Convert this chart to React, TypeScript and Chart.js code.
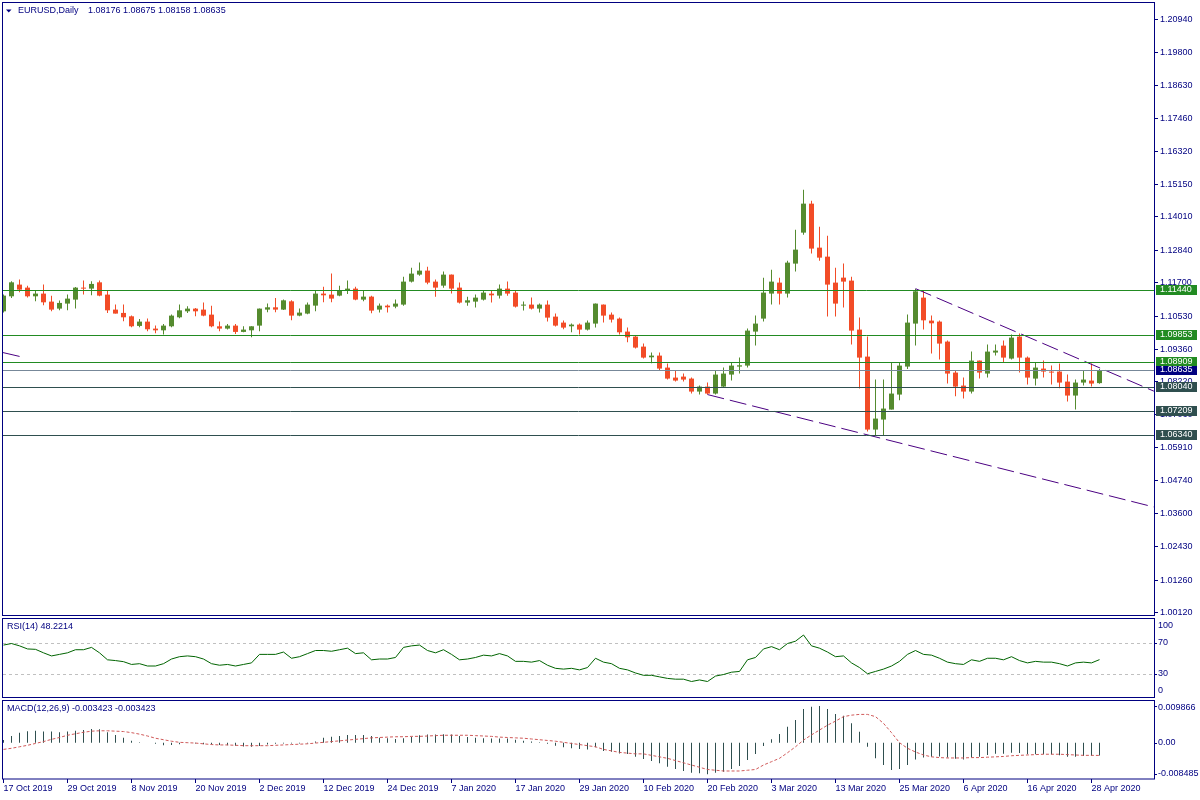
import React, { useEffect, useRef } from "react";
import { Chart, registerables } from "chart.js";

Chart.register(...registerables);

// ---------------- data ----------------
const symbolTitle = "EURUSD,Daily";
const rsiTitle = "RSI(14) 48.2214";
const macdTitle = "MACD(12,26,9) -0.003423 -0.003423";

const xTickLabels = [
  "17 Oct 2019", "29 Oct 2019", "8 Nov 2019", "20 Nov 2019", "2 Dec 2019", "12 Dec 2019",
  "24 Dec 2019", "7 Jan 2020", "17 Jan 2020", "29 Jan 2020", "10 Feb 2020", "20 Feb 2020",
  "3 Mar 2020", "13 Mar 2020", "25 Mar 2020", "6 Apr 2020", "16 Apr 2020", "28 Apr 2020",
];
const xTickStep = 8; // trading days between date labels

const priceTicks = [
  1.2094, 1.198, 1.1863, 1.1746, 1.1632, 1.1515, 1.1401, 1.1284, 1.117, 1.1053,
  1.0936, 1.0822, 1.0706, 1.0591, 1.0474, 1.036, 1.0243, 1.0126, 1.0012,
];

const opens = [
  1.10697, 1.11224, 1.11635, 1.11529, 1.11224, 1.11319, 1.11038, 1.10792, 1.10968, 1.11108,
  1.11529, 1.11494, 1.11715, 1.11284, 1.10757, 1.10641, 1.10522, 1.10185, 1.10336, 1.1009,
  1.1003, 1.10171, 1.10487, 1.10697, 1.10792, 1.10757, 1.10581, 1.10171, 1.1009, 1.10195,
  1.09974, 1.1003, 1.10195, 1.10757, 1.10838, 1.10757, 1.11048, 1.10546, 1.10617, 1.10897,
  1.11319, 1.11284, 1.11248, 1.11434, 1.11494, 1.11108, 1.11213, 1.10757, 1.10897, 1.10862,
  1.10933, 1.1174, 1.11986, 1.12126, 1.1174, 1.11599, 1.11986, 1.11529, 1.11003, 1.11038,
  1.11108, 1.11319, 1.11248, 1.11494, 1.11354, 1.10897, 1.10933, 1.10792, 1.10933, 1.10511,
  1.10301, 1.10171, 1.10231, 1.10055, 1.10266, 1.10933, 1.10581, 1.10441, 1.09985, 1.09809,
  1.09458, 1.09083, 1.09142, 1.08721, 1.0837, 1.08405, 1.08335, 1.07879, 1.08054, 1.07809,
  1.08054, 1.08476, 1.08756, 1.08791, 1.09985, 1.10441, 1.11319, 1.11705, 1.11319, 1.12372,
  1.1346, 1.14478, 1.12933, 1.12617, 1.11705, 1.1188, 1.11775, 1.10055, 1.09107, 1.06545,
  1.06896, 1.07247, 1.07774, 1.08756, 1.10266, 1.11178, 1.10371, 1.10336, 1.09634, 1.08546,
  1.08089, 1.07879, 1.08967, 1.08511, 1.09248, 1.09493, 1.09037, 1.09809, 1.09072, 1.08335,
  1.08686, 1.08581, 1.08581, 1.0823, 1.07739, 1.08195, 1.08265, 1.08176,
];
const highs = [
  1.11284, 1.1175, 1.1181, 1.11599, 1.11434, 1.11635, 1.11248, 1.11073, 1.11284, 1.11554,
  1.11775, 1.1175, 1.11775, 1.11424, 1.10933, 1.10933, 1.10546, 1.10431, 1.10441, 1.10195,
  1.10255, 1.10581, 1.10933, 1.10873, 1.10817, 1.11003, 1.10897, 1.10336, 1.10255, 1.10255,
  1.10171, 1.10171, 1.10792, 1.10968, 1.11168, 1.11108, 1.11083, 1.10792, 1.11003, 1.11448,
  1.11564, 1.12021, 1.11599, 1.11775, 1.11564, 1.11434, 1.11248, 1.10968, 1.10933, 1.11108,
  1.11915, 1.12231, 1.12407, 1.12266, 1.1181, 1.12091, 1.11986, 1.11705, 1.11213, 1.11284,
  1.11424, 1.11424, 1.11635, 1.1174, 1.11424, 1.11038, 1.11178, 1.10968, 1.11073, 1.10617,
  1.10371, 1.10266, 1.10266, 1.10371, 1.10968, 1.10933, 1.10652, 1.10476, 1.10125, 1.09855,
  1.09564, 1.09248, 1.09248, 1.08862, 1.08616, 1.08511, 1.0837, 1.08089, 1.08195, 1.08616,
  1.08721, 1.08907, 1.09072, 1.1009, 1.10546, 1.1188, 1.12161, 1.1188, 1.12477, 1.13565,
  1.1497, 1.14583, 1.1367, 1.13354, 1.12231, 1.12372, 1.11915, 1.10476, 1.09809, 1.083,
  1.083, 1.08897, 1.08897, 1.10581, 1.11484, 1.11434, 1.10546, 1.10371, 1.09669, 1.08627,
  1.0837, 1.09283, 1.08967, 1.09528, 1.09528, 1.09669, 1.0988, 1.09915, 1.09107, 1.08897,
  1.08967, 1.08791, 1.08862, 1.08476, 1.083, 1.08616, 1.08862, 1.08675,
];
const lows = [
  1.10652, 1.11168, 1.11364, 1.11178, 1.11048, 1.10908, 1.10697, 1.10732, 1.10732, 1.10792,
  1.11284, 1.11259, 1.11224, 1.10641, 1.10617, 1.10346, 1.10136, 1.10136, 1.09995, 1.09925,
  1.0988, 1.10136, 1.10452, 1.10641, 1.10522, 1.10522, 1.10136, 1.09995, 1.10055, 1.09904,
  1.0996, 1.09785, 1.09995, 1.10662, 1.10662, 1.10746, 1.10381, 1.10522, 1.10592, 1.10697,
  1.11013, 1.11013, 1.11224, 1.11308, 1.11083, 1.11048, 1.10627, 1.10652, 1.10652, 1.10803,
  1.10897, 1.11705, 1.1195, 1.11645, 1.11213, 1.11529, 1.11319, 1.10968, 1.10897, 1.10827,
  1.11073, 1.11003, 1.11143, 1.11248, 1.10827, 1.10722, 1.10757, 1.10652, 1.10336, 1.1016,
  1.10066, 1.0996, 1.0988, 1.1002, 1.10125, 1.10301, 1.10301, 1.0988, 1.09609, 1.09388,
  1.09037, 1.08872, 1.08626, 1.083, 1.0823, 1.0823, 1.07809, 1.07774, 1.07774, 1.07774,
  1.08019, 1.08265, 1.08511, 1.08721, 1.09493, 1.10336, 1.10933, 1.10933, 1.11178, 1.12091,
  1.1339, 1.12723, 1.12477, 1.10511, 1.10511, 1.10827, 1.09528, 1.07984, 1.06475, 1.06334,
  1.06334, 1.07247, 1.07573, 1.08676, 1.09493, 1.10055, 1.09213, 1.09002, 1.0816, 1.07714,
  1.07633, 1.07809, 1.08335, 1.0837, 1.09142, 1.08897, 1.09002, 1.08546, 1.08125, 1.08089,
  1.0837, 1.08125, 1.07995, 1.07528, 1.07247, 1.08089, 1.08054, 1.08158,
];
const closes = [
  1.11248, 1.11715, 1.11459, 1.11224, 1.11319, 1.11013, 1.10757, 1.10992, 1.11143, 1.11529,
  1.11494, 1.11659, 1.11248, 1.10732, 1.10617, 1.10487, 1.10171, 1.10336, 1.10066, 1.1003,
  1.10195, 1.10546, 1.10732, 1.10792, 1.10697, 1.10546, 1.10171, 1.1009, 1.10195, 1.09974,
  1.10055, 1.10171, 1.10792, 1.10838, 1.10757, 1.11083, 1.10546, 1.10652, 1.10933, 1.11319,
  1.11259, 1.11143, 1.11434, 1.11494, 1.11108, 1.11213, 1.10722, 1.10897, 1.10838, 1.10968,
  1.1174, 1.12021, 1.12126, 1.11705, 1.11529, 1.11986, 1.11494, 1.11003, 1.11083, 1.11178,
  1.11354, 1.11259, 1.11494, 1.11319, 1.10862, 1.10933, 1.10792, 1.10933, 1.10476, 1.10195,
  1.10125, 1.10231, 1.10055, 1.10301, 1.10968, 1.10546, 1.10406, 1.0996, 1.09785, 1.09423,
  1.09072, 1.09142, 1.08686, 1.08335, 1.08265, 1.083, 1.07879, 1.08054, 1.07809, 1.08476,
  1.08511, 1.08791, 1.08802, 1.1002, 1.10266, 1.11354, 1.1174, 1.11319, 1.12407, 1.12863,
  1.14478, 1.12899, 1.12582, 1.11635, 1.10968, 1.1174, 1.1002, 1.09072, 1.06545, 1.06931,
  1.07282, 1.07809, 1.08791, 1.10301, 1.11399, 1.10381, 1.10276, 1.09564, 1.08511, 1.08054,
  1.07879, 1.08967, 1.08546, 1.09283, 1.09318, 1.09072, 1.09774, 1.09072, 1.0837, 1.08721,
  1.08581, 1.08546, 1.08195, 1.07739, 1.08195, 1.083, 1.0816, 1.08635,
];

const rsiValues = [
  67, 69, 66, 62, 61.5, 57, 53, 55, 57, 61,
  61, 64, 57, 48, 47, 45.6, 42, 43, 40, 40,
  43, 49, 52, 53, 52, 49, 43, 41, 42, 40,
  42, 44, 55, 55, 55, 58, 50, 52, 56, 60,
  60, 59, 61, 63, 56, 57, 48, 49, 49, 51,
  64, 66, 67, 60, 57, 61, 55, 48, 49, 51,
  54, 53, 56, 53, 46, 46, 45, 47, 41, 37,
  36, 37, 35, 38, 50, 45, 43, 37, 35, 31,
  28, 28, 26, 24, 23, 23, 20, 22, 20, 27,
  29, 32, 33, 48, 51, 62, 65, 61, 69, 72,
  80, 66, 63, 58, 52, 53, 44, 38, 30, 33,
  36, 40, 46, 55, 60, 55, 54, 50, 45, 43,
  42, 48, 46, 50, 50, 48, 52, 47, 44, 46,
  45, 45, 43, 40, 44, 45, 44, 48.2214,
];
const rsiLevels = [70, 30];
const rsiAxisLabels = [100, 70, 30, 0];

const macdMain = [
  0.0007, 0.0018, 0.0027, 0.0031, 0.0032, 0.003, 0.003, 0.0028, 0.003, 0.0032,
  0.0034, 0.0037, 0.0036, 0.0028, 0.0021, 0.0013, 0.0005, 0.0001, 0.0, -0.0003,
  -0.0007, -0.0006, -0.0004, -0.0001, -0.0002, -0.0004, -0.0005, -0.0006, -0.0007, -0.0008,
  -0.001, -0.0011, -0.0009, -0.0005, -0.0003, -0.0002, -0.0002, -0.0002, -0.0002, 0.0003,
  0.0013, 0.0016, 0.0018, 0.0021, 0.0021, 0.0021, 0.0018, 0.0013, 0.0012, 0.001,
  0.0012, 0.0016, 0.002, 0.0022, 0.0022, 0.0023, 0.0022, 0.0018, 0.0015, 0.0013,
  0.0012, 0.0011, 0.0011, 0.0011, 0.0008, 0.0005, 0.0003, 0.0001, -0.0003, -0.0008,
  -0.0012, -0.0015, -0.0017, -0.0018, -0.0012, -0.00224, -0.00242, -0.00287, -0.00305, -0.00376,
  -0.00439, -0.00493, -0.00555, -0.00645, -0.00708, -0.00762, -0.00806, -0.00824, -0.008485, -0.00806,
  -0.00779, -0.00708, -0.00627, -0.00466, -0.00305, -0.0009, 0.0009, 0.00233, 0.0043, 0.00609,
  0.00905, 0.00968, 0.009866, 0.00905, 0.00771, 0.00726, 0.0052, 0.00296, -0.00108, -0.00421,
  -0.006, -0.00735, -0.00708, -0.006, -0.0045, -0.004, -0.0038, -0.0037, -0.004, -0.0043,
  -0.0045, -0.004, -0.0038, -0.0033, -0.003, -0.003, -0.0027, -0.0028, -0.0031, -0.0031,
  -0.0031, -0.0032, -0.0034, -0.0038, -0.0038, -0.0036, -0.0035, -0.003423,
];
const macdSignal = [
  -0.0018, -0.0015, -0.0011, -0.0007, -0.0002, 0.0003, 0.0009, 0.0014, 0.002, 0.0024,
  0.0028, 0.0031, 0.0032, 0.0032, 0.0031, 0.003, 0.0027, 0.0023, 0.0018, 0.0012,
  0.0008, 0.0004, 0.0001, 0.0, -0.0001, -0.0003, -0.0005, -0.0006, -0.0006, -0.0007,
  -0.0008, -0.0008, -0.0008, -0.0008, -0.0007, -0.0006, -0.0005, -0.0004, -0.0003, -0.0001,
  0.0001, 0.0003, 0.0005, 0.0007, 0.0009, 0.0011, 0.0013, 0.0014, 0.0015, 0.0016,
  0.0016, 0.0017, 0.0017, 0.0018, 0.0019, 0.002, 0.002, 0.002, 0.002, 0.0019,
  0.0018, 0.0017, 0.0015, 0.0014, 0.0013, 0.0012, 0.001, 0.0008, 0.0006, 0.0004,
  0.0001, -0.0002, -0.0005, -0.0008, -0.0011, -0.0018, -0.0022, -0.0026, -0.0028, -0.003,
  -0.003, -0.0034, -0.0038, -0.0042, -0.0048, -0.0054, -0.006, -0.0066, -0.0072, -0.0074,
  -0.0076, -0.0076, -0.0076, -0.0074, -0.0072, -0.006, -0.0051, -0.0042, -0.0027, -0.0011,
  0.0007, 0.0021, 0.0034, 0.0047, 0.0058, 0.007, 0.0074, 0.0076, 0.0076, 0.007,
  0.0052, 0.0027, 0.0, -0.0015, -0.0025, -0.0033, -0.0038, -0.004, -0.0041, -0.0041,
  -0.0041, -0.004, -0.004, -0.0039, -0.0038, -0.0037, -0.0035, -0.0034, -0.0033, -0.0032,
  -0.0031, -0.0031, -0.0031, -0.0032, -0.0033, -0.0034, -0.0034, -0.003423,
];
const macdAxisLabels = [0.009866, 0, -0.008485];

// horizontal support / resistance levels
const levelValues = [1.1144, 1.09853, 1.08909, 1.0804, 1.07209, 1.0634];
const levelKinds = ["green", "green", "green", "slate", "slate", "slate"];

// trend lines: [barIndex, price] anchor points
const trendUpper = [
  { x: 114, y: 1.11494 },
  { x: 143.8, y: 1.07893 },
];
const trendLower = [
  { x: 88, y: 1.07774 },
  { x: 143.8, y: 1.03826 },
];
const trendOld = [
  { x: -0.06, y: 1.09248 },
  { x: 2.1, y: 1.09107 },
];

// ---------------- style / layout ----------------
const FONT_FAMILY = "'Liberation Sans', 'DejaVu Sans', sans-serif";
const FONT_SIZE = 9;
const FONT = `${FONT_SIZE}px ${FONT_FAMILY}`;
const NAVY = "#000080";
const BULL = "#558B2F";
const BEAR = "#F24C27";
const LEVEL_GREEN = "#228B22";
const LEVEL_SLATE = "#2F4F4F";
const PRICE_LINE = "#778899";
const TREND = "#4B0082";
const RSI_COLOR = "#006400";
const HIST_COLOR = "#2F4F4F";
const SIGNAL_COLOR = "#D05A5A";

const W = 1200;
const H = 800;
const PLOT_LEFT = 3;
const PLOT_RIGHT = 1154;
const AXIS_W = W - PLOT_RIGHT;
const BAR_PX = 8;
const X_MIN = (PLOT_LEFT - 3.5) / BAR_PX;
const X_MAX = X_MIN + (PLOT_RIGHT - PLOT_LEFT) / BAR_PX;

const MAIN_TOP = 3;
const MAIN_BOTTOM = 615;
const RSI_TOP = 619.5;
const RSI_BOTTOM = 697;
const MACD_TOP = 700;
const MACD_BOTTOM = 779;

const PRICE_MIN = 1.00034;
const PRICE_MAX = 1.21523;
const MACD_MIN = -0.009753;
const MACD_MAX = 0.011472;

const xScaleHidden = {
  type: "linear" as const,
  min: X_MIN,
  max: X_MAX,
  display: false,
  offset: false,
};

function panelBorder(ctx: CanvasRenderingContext2D, top: number, bottom: number) {
  ctx.strokeStyle = NAVY;
  ctx.lineWidth = 1;
  ctx.strokeRect(PLOT_LEFT - 0.5, top + 0.5, PLOT_RIGHT - PLOT_LEFT + 1, bottom - top);
}

function mainConfig(): any {
  const n = opens.length;
  const colors = opens.map((o, i) => (closes[i] >= o ? BULL : BEAR));
  const wickData = highs.map((h, i) => ({ x: i, y: [lows[i], h] }));
  const bodyData = opens.map((o, i) => ({
    x: i,
    y: [Math.min(o, closes[i]), Math.max(o, closes[i])],
  }));
  const lastClose = closes[n - 1];
  const trendDs = (data: { x: number; y: number }[]) => ({
    type: "line",
    data,
    borderColor: TREND,
    borderWidth: 1,
    borderDash: [17, 6],
    pointRadius: 0,
    tension: 0,
    order: 0,
  });

  const decor = {
    id: "mainDecor",
    afterDatasetsDraw(chart: any) {
      const { ctx, chartArea: ca } = chart;
      const y = chart.scales.y;
      ctx.save();
      ctx.lineWidth = 1;
      const py0 = Math.round(y.getPixelForValue(lastClose)) + 0.5;
      ctx.strokeStyle = PRICE_LINE;
      ctx.beginPath();
      ctx.moveTo(ca.left, py0);
      ctx.lineTo(ca.right, py0);
      ctx.stroke();
      levelValues.forEach((v, i) => {
        const py = Math.round(y.getPixelForValue(v)) + 0.5;
        ctx.strokeStyle = levelKinds[i] === "green" ? LEVEL_GREEN : LEVEL_SLATE;
        ctx.beginPath();
        ctx.moveTo(ca.left, py);
        ctx.lineTo(ca.right, py);
        ctx.stroke();
      });
      ctx.restore();
    },
    afterDraw(chart: any) {
      const { ctx } = chart;
      const y = chart.scales.y;
      ctx.save();
      panelBorder(ctx, MAIN_TOP - 1, MAIN_BOTTOM);
      ctx.font = FONT;
      ctx.textBaseline = "middle";
      ctx.textAlign = "left";
      const box = (v: number, color: string, up: number, down: number) => {
        const py = Math.round(y.getPixelForValue(v));
        ctx.fillStyle = color;
        ctx.fillRect(PLOT_RIGHT + 2, py - up, 41, up + down);
        ctx.fillStyle = "#ffffff";
        ctx.fillText(v.toFixed(5), PLOT_RIGHT + 6, py);
      };
      levelValues.forEach((v, i) =>
        box(v, levelKinds[i] === "green" ? LEVEL_GREEN : LEVEL_SLATE, 5, 5)
      );
      box(lastClose, NAVY, 4, 5);
      // title
      ctx.fillStyle = NAVY;
      ctx.beginPath();
      ctx.moveTo(6, 9.5);
      ctx.lineTo(11.5, 9.5);
      ctx.lineTo(8.75, 12.5);
      ctx.closePath();
      ctx.fill();
      const ohlc = `${opens[n - 1].toFixed(5)} ${highs[n - 1].toFixed(5)} ${lows[n - 1].toFixed(5)} ${closes[n - 1].toFixed(5)}`;
      ctx.fillText(symbolTitle, 18, 11);
      ctx.fillText(ohlc, 88, 11);
      ctx.restore();
    },
  };

  return {
    type: "bar",
    data: {
      datasets: [
        trendDs(trendUpper),
        trendDs(trendLower),
        trendDs(trendOld),
        {
          type: "bar",
          data: bodyData,
          backgroundColor: colors,
          barThickness: 5,
          minBarLength: 1,
          inflateAmount: 0,
          grouped: false,
          order: 1,
        },
        {
          type: "bar",
          data: wickData,
          backgroundColor: colors,
          barThickness: 1,
          inflateAmount: 0,
          grouped: false,
          order: 2,
        },
      ],
    },
    options: {
      responsive: false,
      animation: false,
      events: [],
      layout: { padding: { left: PLOT_LEFT, top: MAIN_TOP, right: 0, bottom: H - MAIN_BOTTOM } },
      plugins: { legend: { display: false }, tooltip: { enabled: false } },
      scales: {
        x: xScaleHidden,
        y: {
          type: "linear",
          position: "right",
          min: PRICE_MIN,
          max: PRICE_MAX,
          afterBuildTicks: (s: any) => {
            s.ticks = priceTicks.map((v) => ({ value: v }));
          },
          afterFit: (s: any) => {
            s.width = AXIS_W;
            s.paddingTop = 0;
            s.paddingBottom = 0;
          },
          ticks: {
            autoSkip: false,
            color: NAVY,
            font: { family: FONT_FAMILY, size: FONT_SIZE },
            padding: 2,
            callback: (v: any) => Number(v).toFixed(5),
          },
          grid: { drawOnChartArea: false, drawTicks: true, tickLength: 4, color: NAVY },
          border: { display: false },
        },
      },
    },
    plugins: [decor],
  };
}

function rsiConfig(): any {
  const decor = {
    id: "rsiDecor",
    beforeDatasetsDraw(chart: any) {
      const { ctx, chartArea: ca } = chart;
      const y = chart.scales.y;
      ctx.save();
      ctx.strokeStyle = "#C0C0C0";
      ctx.lineWidth = 1;
      ctx.setLineDash([3, 3]);
      rsiLevels.forEach((v) => {
        const py = Math.round(y.getPixelForValue(v)) + 0.5;
        ctx.beginPath();
        ctx.moveTo(ca.left, py);
        ctx.lineTo(ca.right, py);
        ctx.stroke();
      });
      ctx.restore();
    },
    afterDraw(chart: any) {
      const { ctx } = chart;
      const y = chart.scales.y;
      ctx.save();
      panelBorder(ctx, 618, 697);
      ctx.font = FONT;
      ctx.textBaseline = "middle";
      ctx.textAlign = "left";
      ctx.fillStyle = NAVY;
      ctx.strokeStyle = NAVY;
      rsiAxisLabels.forEach((v) => {
        const py = y.getPixelForValue(v);
        const ty = Math.min(Math.max(py, 626), 691);
        ctx.fillText(String(v), PLOT_RIGHT + 4, ty);
        if (v > 0 && v < 100) {
          const p = Math.round(py) + 0.5;
          ctx.beginPath();
          ctx.moveTo(PLOT_RIGHT, p);
          ctx.lineTo(PLOT_RIGHT + 3, p);
          ctx.stroke();
        }
      });
      ctx.fillText(rsiTitle, 7, 627);
      ctx.restore();
    },
  };
  return {
    type: "line",
    data: {
      datasets: [
        {
          data: rsiValues.map((v, i) => ({ x: i, y: v })),
          borderColor: RSI_COLOR,
          borderWidth: 1,
          pointRadius: 0,
          tension: 0,
        },
      ],
    },
    options: {
      responsive: false,
      animation: false,
      events: [],
      layout: { padding: { left: PLOT_LEFT, top: RSI_TOP, right: AXIS_W, bottom: H - RSI_BOTTOM } },
      plugins: { legend: { display: false }, tooltip: { enabled: false } },
      scales: {
        x: xScaleHidden,
        y: { type: "linear", min: 0, max: 100, display: false },
      },
    },
    plugins: [decor],
  };
}

function macdConfig(): any {
  const decor = {
    id: "macdDecor",
    afterDraw(chart: any) {
      const { ctx } = chart;
      const y = chart.scales.y;
      ctx.save();
      panelBorder(ctx, MACD_TOP, MACD_BOTTOM - 0.5);
      ctx.font = FONT;
      ctx.textBaseline = "middle";
      ctx.textAlign = "left";
      ctx.fillStyle = NAVY;
      ctx.strokeStyle = NAVY;
      macdAxisLabels.forEach((v) => {
        const py = y.getPixelForValue(v);
        const ty = Math.min(Math.max(py, 707.5), 773.5);
        const txt = v === 0 ? "0.00" : v.toFixed(6);
        ctx.fillText(txt, PLOT_RIGHT + 4, ty);
        const p = Math.round(py) + 0.5;
        ctx.beginPath();
        ctx.moveTo(PLOT_RIGHT, p);
        ctx.lineTo(PLOT_RIGHT + 3, p);
        ctx.stroke();
      });
      ctx.fillText(macdTitle, 7, 709);
      ctx.restore();
    },
  };
  const tickIdx = xTickLabels.map((_, k) => k * xTickStep);
  return {
    type: "bar",
    data: {
      datasets: [
        {
          type: "line",
          data: macdSignal.map((v, i) => ({ x: i, y: v })),
          borderColor: SIGNAL_COLOR,
          borderWidth: 1,
          borderDash: [3, 2],
          pointRadius: 0,
          tension: 0,
          order: 0,
        },
        {
          type: "bar",
          data: macdMain.map((v, i) => ({ x: i, y: v })),
          backgroundColor: HIST_COLOR,
          barThickness: 1,
          inflateAmount: 0,
          grouped: false,
          order: 1,
        },
      ],
    },
    options: {
      responsive: false,
      animation: false,
      events: [],
      layout: { padding: { left: PLOT_LEFT, top: MACD_TOP, right: AXIS_W, bottom: 0 } },
      plugins: { legend: { display: false }, tooltip: { enabled: false } },
      scales: {
        x: {
          type: "linear",
          position: "bottom",
          min: X_MIN,
          max: X_MAX,
          offset: false,
          afterBuildTicks: (s: any) => {
            s.ticks = tickIdx.map((v) => ({ value: v }));
          },
          afterFit: (s: any) => {
            s.height = H - MACD_BOTTOM;
            s.paddingLeft = 0;
            s.paddingRight = 0;
          },
          ticks: {
            autoSkip: false,
            maxRotation: 0,
            minRotation: 0,
            align: "start",
            padding: 0,
            color: NAVY,
            font: { family: FONT_FAMILY, size: FONT_SIZE },
            callback: (_v: any, idx: number) => xTickLabels[idx],
          },
          grid: { drawOnChartArea: false, drawTicks: true, tickLength: 4, color: NAVY, offset: false },
          border: { display: false },
        },
        y: { type: "linear", min: MACD_MIN, max: MACD_MAX, display: false },
      },
    },
    plugins: [decor],
  };
}

export default function App() {
  const mainRef = useRef<HTMLCanvasElement>(null);
  const rsiRef = useRef<HTMLCanvasElement>(null);
  const macdRef = useRef<HTMLCanvasElement>(null);

  useEffect(() => {
    document.body.style.margin = "0";
    const charts: Chart[] = [];
    if (mainRef.current) charts.push(new Chart(mainRef.current, mainConfig()));
    if (rsiRef.current) charts.push(new Chart(rsiRef.current, rsiConfig()));
    if (macdRef.current) charts.push(new Chart(macdRef.current, macdConfig()));
    return () => charts.forEach((c) => c.destroy());
  }, []);

  const canvasStyle: React.CSSProperties = { position: "absolute", left: 0, top: 0, width: W, height: H };
  return (
    <div style={{ position: "relative", width: W, height: H, background: "#ffffff", overflow: "hidden" }}>
      <canvas ref={mainRef} width={W} height={H} style={canvasStyle} />
      <canvas ref={rsiRef} width={W} height={H} style={canvasStyle} />
      <canvas ref={macdRef} width={W} height={H} style={canvasStyle} />
    </div>
  );
}
